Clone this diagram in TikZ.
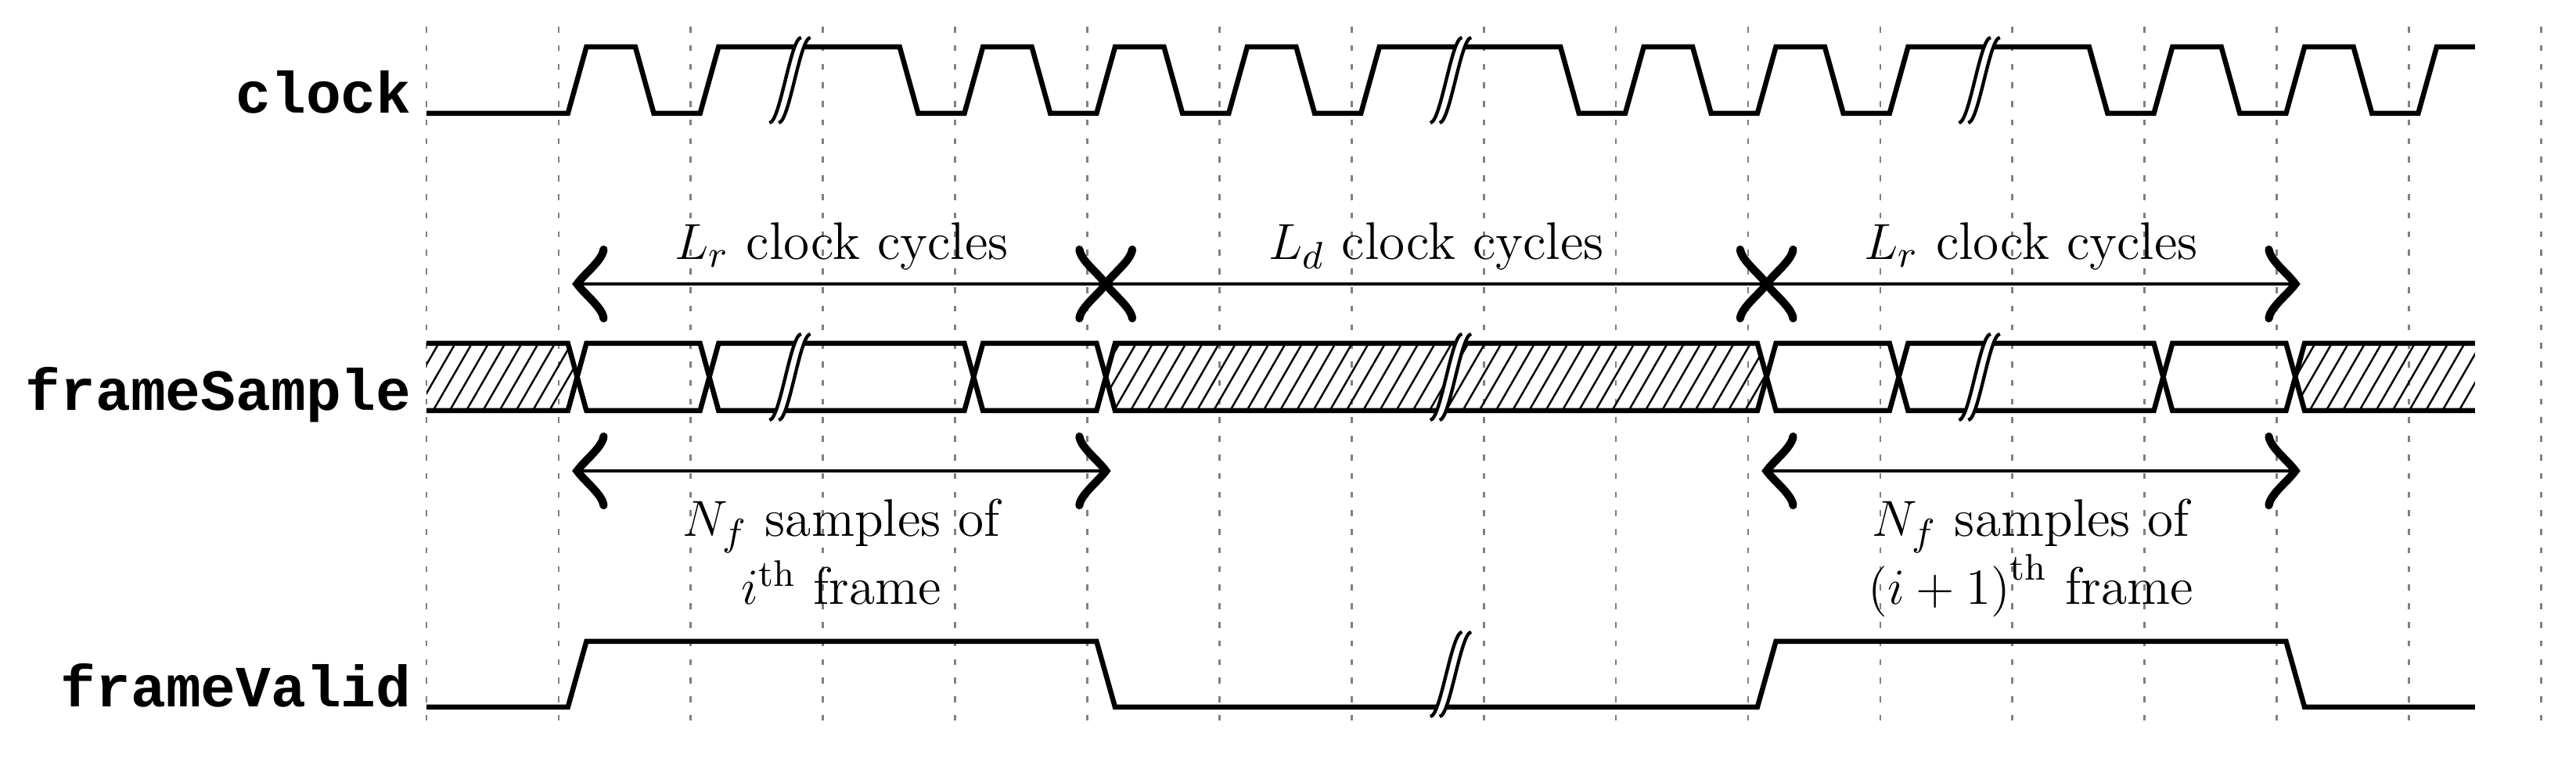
\documentclass[tikz,border=0pt]{standalone}
\usepackage{fontspec}
\newfontfamily\sigfont{Liberation Mono}
\usetikzlibrary{patterns.meta}
\newcommand\tbrk[3]{% center, bottom y, top y
  \fill[white] (#1-0.155,#2) .. controls (#1-0.075,#2) and (#1+0.005,#3) .. (#1+0.085,#3)
     -- (#1+0.155,#3) .. controls (#1+0.075,#3) and (#1-0.005,#2) .. (#1-0.085,#2) -- cycle;
  \draw[brk] (#1-0.155,#2) .. controls (#1-0.075,#2) and (#1+0.005,#3) .. (#1+0.085,#3);
  \draw[brk] (#1-0.085,#2) .. controls (#1-0.005,#2) and (#1+0.075,#3) .. (#1+0.155,#3);}
\newcommand\dtip[2]{% coordinate, direction (1 = opens right, -1 = opens left)
  \begin{scope}[shift={(#1)},xscale=#2]
  \draw[tipl] (0.2,-44) .. controls (0.19,-30) and (0.06,-14) .. (0,0) .. controls (0.06,14) and (0.19,30) .. (0.2,44);
  \end{scope}}
\begin{document}
\begin{tikzpicture}[x=31.2465pt,y=-0.185pt,
  sig/.style={line width=1.2pt,line join=miter},
  brk/.style={line width=0.8pt},
  tipl/.style={line width=1.9pt,line cap=round},
  grid/.style={gray,line width=0.5pt,dash pattern=on 1.4pt off 3pt},
  lab/.style={font=\sigfont\bfseries\fontsize{13.8}{16}\selectfont,anchor=base east,inner sep=0pt},
  txt/.style={font=\fontsize{12.5}{15}\selectfont,anchor=base,inner sep=0pt},
  hatch/.style={pattern={Lines[angle=60,distance=3.4pt,line width=0.45pt]}},
  dim/.style={line width=0.6pt}]
\useasboundingbox (-3.227,0) rectangle (16.264,969);
\foreach \k in {0,...,16} \draw[grid] (\k,34) -- (\k,921);
% labels
\node[lab] (lclk) at (-0.11,145) {clock};
\node[lab] (lfs) at (-0.11,525) {frameSample};
\node[lab] (lfv) at (-0.11,904) {frameValid};
% clock
\draw[sig] (0,145) -- (1.07,145) -- (1.21,60) -- (1.58,60) -- (1.72,145) -- (2.07,145) -- (2.21,60) -- (3.58,60) -- (3.72,145) -- (4.07,145) -- (4.21,60) -- (4.58,60) -- (4.72,145) -- (5.07,145) -- (5.21,60) -- (5.58,60) -- (5.72,145) -- (6.07,145) -- (6.21,60) -- (6.58,60) -- (6.72,145) -- (7.07,145) -- (7.21,60) -- (8.58,60) -- (8.72,145) -- (9.07,145) -- (9.21,60) -- (9.58,60) -- (9.72,145) -- (10.07,145) -- (10.21,60) -- (10.58,60) -- (10.72,145) -- (11.07,145) -- (11.21,60) -- (12.58,60) -- (12.72,145) -- (13.07,145) -- (13.21,60) -- (13.58,60) -- (13.72,145) -- (14.07,145) -- (14.21,60) -- (14.58,60) -- (14.72,145) -- (15.07,145) -- (15.21,60) -- (15.5,60);
% frameSample
\fill[hatch] (0,439) -- (1.07,439) -- (1.14,482) -- (1.07,525) -- (0,525) -- cycle;
\draw[sig] (0,439) -- (1.07,439) -- (1.14,482) -- (1.07,525) -- (0,525);
\foreach \a/\b in {1.14/2.14,2.14/4.14,4.14/5.14,10.14/11.14,11.14/13.14,13.14/14.14}
  \draw[sig] (\a,482) -- (\a+0.07,439) -- (\b-0.07,439) -- (\b,482) -- (\b-0.07,525) -- (\a+0.07,525) -- cycle;
\fill[hatch] (5.14,482) -- (5.21,439) -- (10.07,439) -- (10.14,482) -- (10.07,525) -- (5.21,525) -- cycle;
\draw[sig] (5.14,482) -- (5.21,439) -- (10.07,439) -- (10.14,482) -- (10.07,525) -- (5.21,525) -- cycle;
\fill[hatch] (14.14,482) -- (14.21,439) -- (15.5,439) -- (15.5,525) -- (14.21,525) -- cycle;
\draw[sig] (15.5,439) -- (14.21,439) -- (14.14,482) -- (14.21,525) -- (15.5,525);
% frameValid
\draw[sig] (0,904) -- (1.07,904) -- (1.21,820) -- (5.07,820) -- (5.21,904) -- (10.07,904) -- (10.21,820) -- (14.07,820) -- (14.21,904) -- (15.5,904);
% breaks
\tbrk{2.75}{157}{48}\tbrk{7.75}{157}{48}\tbrk{11.75}{157}{48}
\tbrk{2.75}{537}{427}\tbrk{7.75}{537}{427}\tbrk{11.75}{537}{427}
\tbrk{7.75}{916}{808}
% dimension arrows
\coordinate (a1) at (1.14,363); \coordinate (a2) at (5.14,363);
\coordinate (a3) at (10.14,363); \coordinate (a4) at (14.14,363);
\draw[dim] (a1) -- (a2);
\draw[dim] (a2) -- (a3);
\draw[dim] (a3) -- (a4);
\dtip{a1}{1}\dtip{a2}{-1}\dtip{a2}{1}\dtip{a3}{-1}\dtip{a3}{1}\dtip{a4}{-1}
\coordinate (b1) at (1.14,602); \coordinate (b2) at (5.14,602);
\coordinate (b3) at (10.14,602); \coordinate (b4) at (14.14,602);
\draw[dim] (b1) -- (b2);
\draw[dim] (b3) -- (b4);
\dtip{b1}{1}\dtip{b2}{-1}\dtip{b3}{1}\dtip{b4}{-1}
\node[txt] (t1) at (3.14,332) {$L_r$ clock cycles};
\node[txt] (t2) at (7.64,332) {$L_d$ clock cycles};
\node[txt] (t3) at (12.14,332) {$L_r$ clock cycles};
\node[txt] (t4) at (3.14,686) {$N_f$ samples of};
\node[txt] (t5) at (3.14,773) {$i^{\mathrm{th}}$ frame};
\node[txt] (t6) at (12.14,686) {$N_f$ samples of};
\node[txt] (t7) at (12.14,773) {$\bigl(i+1\bigr)^{\mathrm{th}}$ frame};
\end{tikzpicture}
\end{document}
